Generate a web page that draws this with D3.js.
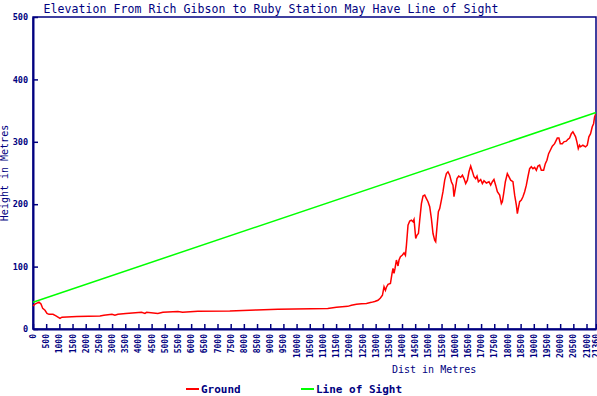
<!DOCTYPE html>
<html>
<head>
<meta charset="utf-8">
<script src="https://cdn.jsdelivr.net/npm/d3@7"></script>
<style>
  body { margin: 0; background: #fff; }
  svg { display: block; }
  text { font-family: "DejaVu Sans Mono", monospace; fill: #000080; }
</style>
</head>
<body>
<div id="chart"></div>
<script>
// profile data (metres)
var groundDist = [0, 76, 227, 303, 368, 455, 531, 607, 758, 872, 948, 1024, 1099, 1668, 2540, 2690, 2995, 3108, 3222, 3525,
  4120, 4246, 4310, 4739, 4928, 5497, 5675, 6255, 7468, 8480, 9288, 11183, 11513, 11942, 12082, 12272, 12461, 12651, 12840,
  12965, 13090, 13181, 13257, 13280, 13318, 13371, 13409, 13470, 13561, 13622, 13659, 13697, 13735, 13788, 13849, 13887,
  13940, 14016, 14077, 14130, 14168, 14228, 14293, 14357, 14418, 14456, 14520, 14570, 14623, 14672, 14736, 14797, 14862,
  14926, 14987, 15051, 15115, 15176, 15240, 15278, 15328, 15380, 15430, 15494, 15555, 15620, 15684, 15745, 15809, 15873,
  15934, 15972, 16036, 16086, 16151, 16226, 16291, 16352, 16416, 16481, 16541, 16606, 16655, 16731, 16795, 16845, 16898,
  16985, 17049, 17110, 17201, 17300, 17364, 17428, 17489, 17553, 17618, 17705, 17769, 17807, 17856, 17921, 17996, 18046,
  18122, 18209, 18274, 18338, 18376, 18425, 18463, 18527, 18588, 18653, 18717, 18778, 18842, 18906, 18967, 19031, 19096,
  19156, 19221, 19285, 19372, 19437, 19498, 19562, 19627, 19702, 19790, 19892, 19953, 20006, 20082, 20142, 20233, 20294,
  20358, 20423, 20483, 20521, 20586, 20635, 20688, 20737, 20775, 20862, 20964, 21029, 21090, 21154, 21218, 21268, 21306, 21344];
var groundHeight = [37, 40, 43, 40, 33, 30, 25, 23.5, 23.5, 21, 19, 17, 19, 20, 21, 22, 23.5, 22, 23.5, 25,
  26.7, 25, 26.7, 25, 26.7, 28, 26.7, 28.3, 28.8, 30.4, 31.5, 33, 34.7, 36.3, 38, 39.5, 40.5, 41, 42.7,
  44, 46, 49.6, 54, 59, 67.7, 62, 67, 71.5, 73, 89, 97, 89, 97, 110.5, 101, 110.5,
  115.8, 118.5, 122, 118, 134.5, 166.5, 173, 174.5, 172, 175.6, 145, 150.5, 153, 174.5, 201, 213, 214.5,
  209, 204, 196, 177, 153, 142.5, 140, 164, 188, 193, 206.5, 220, 238.5, 249, 252, 246.5, 236,
  230.5, 212, 228, 241, 245, 243, 246.5, 241, 233, 238.5, 252, 261, 254.5, 244, 241, 245, 236,
  239.6, 233, 237.5, 234, 236, 230.5, 236, 239.6, 230.5, 220, 214.5, 201, 204, 217, 236, 249, 245,
  238.5, 236, 214.5, 198.5, 185, 196, 204, 206.5, 212, 220, 230.5, 244, 257, 260, 257, 259, 254.5,
  261, 262.5, 254.5, 254.5, 265, 270.5, 281, 286.5, 293, 297, 306, 306, 297, 297, 300, 301, 304,
  306, 313, 316, 313, 308, 300, 289, 294.5, 292, 294.5, 292, 294.5, 308, 313, 324, 329, 340, 344];
var sightDist = [0, 21360];
var sightHeight = [43, 347];

var xTicks = d3.range(0, 21001, 500).concat([21360]);
var yTicks = [0, 100, 200, 300, 400, 500];

var svgWidth = 597;
var svgHeight = 396;
var margin = { top: 17, right: 1, bottom: 67, left: 33 };
var width = svgWidth - margin.left - margin.right;
var height = svgHeight - margin.top - margin.bottom;

var svg = d3.select("#chart")
  .append("svg")
  .attr("width", svgWidth)
  .attr("height", svgHeight);

var chart = svg.append("g")
  .attr("transform", `translate(${margin.left}, ${margin.top})`);

var xScale = d3.scaleLinear().domain([0, 21360]).range([0, width]);
var yScale = d3.scaleLinear().domain([0, 500]).range([height, 0]);

// title
svg.append("text")
  .attr("x", 271)
  .attr("y", 13)
  .attr("text-anchor", "middle")
  .attr("textLength", 455)
  .attr("lengthAdjust", "spacing")
  .style("font-size", "11.5px")
  .text("Elevation From Rich Gibson to Ruby Station May Have Line of Sight");

// frame
chart.append("rect")
  .attr("width", width)
  .attr("height", height)
  .attr("fill", "none")
  .attr("stroke", "#000080")
  .attr("stroke-width", 1.5);

// axes
var bottomAxis = d3.axisBottom(xScale)
  .tickValues(xTicks)
  .tickSizeInner(-5)
  .tickSizeOuter(0)
  .tickFormat(d3.format("d"));

var leftAxis = d3.axisLeft(yScale)
  .tickValues(yTicks)
  .tickSizeInner(-5)
  .tickSizeOuter(0);

var xAxisG = chart.append("g")
  .attr("transform", `translate(0, ${height})`)
  .call(bottomAxis);
xAxisG.selectAll("text")
  .attr("transform", "rotate(-90)")
  .attr("x", -5)
  .attr("y", 0)
  .attr("dy", "0.32em")
  .attr("text-anchor", "end")
  .style("font-size", "8px")
  .style("font-weight", "bold")
  .style("font-family", "'DejaVu Sans Mono', monospace")
  .attr("fill", "#000080");

var yAxisG = chart.append("g").call(leftAxis);
yAxisG.selectAll("text")
  .attr("x", -5)
  .style("font-size", "8.5px")
  .style("font-weight", "bold")
  .style("font-family", "'DejaVu Sans Mono', monospace")
  .attr("fill", "#000080");

chart.selectAll(".domain").attr("stroke", "#000080").attr("stroke-width", 2);
chart.selectAll(".tick line").attr("stroke", "#000080").attr("stroke-width", 1.5);

// axis titles
svg.append("text")
  .attr("x", 392)
  .attr("y", 373)
  .style("font-size", "10px")
  .text("Dist in Metres");

svg.append("text")
  .attr("transform", "translate(8, 173) rotate(-90)")
  .attr("text-anchor", "middle")
  .style("font-size", "10px")
  .text("Height in Metres");

// lines
var line = d3.line()
  .x(d => xScale(d[0]))
  .y(d => yScale(d[1]));

chart.append("path")
  .datum(sightDist.map((d, i) => [d, sightHeight[i]]))
  .attr("d", line)
  .attr("fill", "none")
  .attr("stroke", "#00ff00")
  .attr("stroke-width", 1.5);

chart.append("path")
  .datum(groundDist.map((d, i) => [d, groundHeight[i]]))
  .attr("d", line)
  .attr("fill", "none")
  .attr("stroke", "#ff0000")
  .attr("stroke-width", 1.5);

// legend
var legend = [
  { name: "Ground", color: "#ff0000", x: 186 },
  { name: "Line of Sight", color: "#00ff00", x: 301 }
];
var lg = svg.selectAll(".legend")
  .data(legend)
  .enter()
  .append("g")
  .attr("class", "legend")
  .attr("transform", d => `translate(${d.x}, 389)`);
lg.append("line")
  .attr("x1", 0)
  .attr("x2", 13)
  .attr("stroke", d => d.color)
  .attr("stroke-width", 2);
lg.append("text")
  .attr("x", 15)
  .attr("y", 4)
  .style("font-size", "11px")
  .style("font-weight", "bold")
  .text(d => d.name);
</script>
</body>
</html>
